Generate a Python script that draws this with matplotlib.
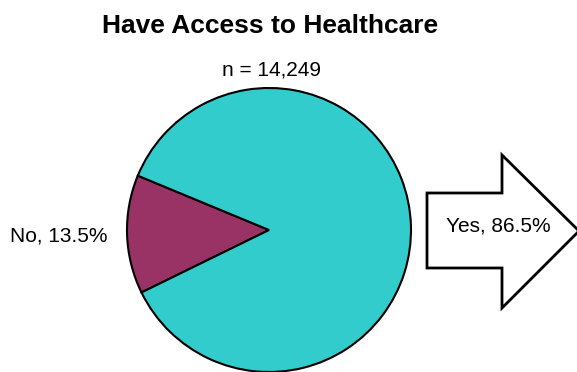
import matplotlib.pyplot as plt
from matplotlib.patches import Polygon

plt.rcParams['font.family'] = ['Liberation Sans', 'DejaVu Sans']

# survey answers
labels = ['No', 'Yes']
shares = [13.5, 86.5]
colors = ['#993366', '#33CCCC']
n_total = 14249

W, H = 577, 372
fig = plt.figure(figsize=(W / 100, H / 100), dpi=100)
ax = fig.add_axes([0, 0, 1, 1])

# pie in pixel-like coordinates, y measured from the bottom
cx, cy, r = 269, H - 230, 142
ax.pie(shares, colors=colors, startangle=157.5, counterclock=True,
       center=(cx, cy), radius=r, frame=True,
       wedgeprops=dict(edgecolor='black', linewidth=1.5))

# block arrow for the "Yes" answer
arrow = [(427, 193), (502, 193), (502, 155), (579, 231),
         (502, 308), (502, 268), (427, 268)]
ax.add_patch(Polygon([(x, H - y) for x, y in arrow], closed=True,
                     facecolor='white', edgecolor='black', linewidth=2,
                     joinstyle='miter'))

ax.text(270, H - 33, 'Have Access to Healthcare', fontsize=19,
        fontweight='bold', ha='center', va='baseline')
ax.text(271, H - 76, f'n = {n_total:,}', fontsize=15,
        ha='center', va='baseline')
ax.text(59, H - 242, f'{labels[0]}, {shares[0]}%', fontsize=15,
        ha='center', va='baseline')
ax.text(498, H - 232, f'{labels[1]}, {shares[1]}%', fontsize=15,
        ha='center', va='baseline')

ax.set_xlim(0, W)
ax.set_ylim(0, H)
ax.set_aspect('auto')
ax.axis('off')

fig.savefig('out.png', dpi=100)
